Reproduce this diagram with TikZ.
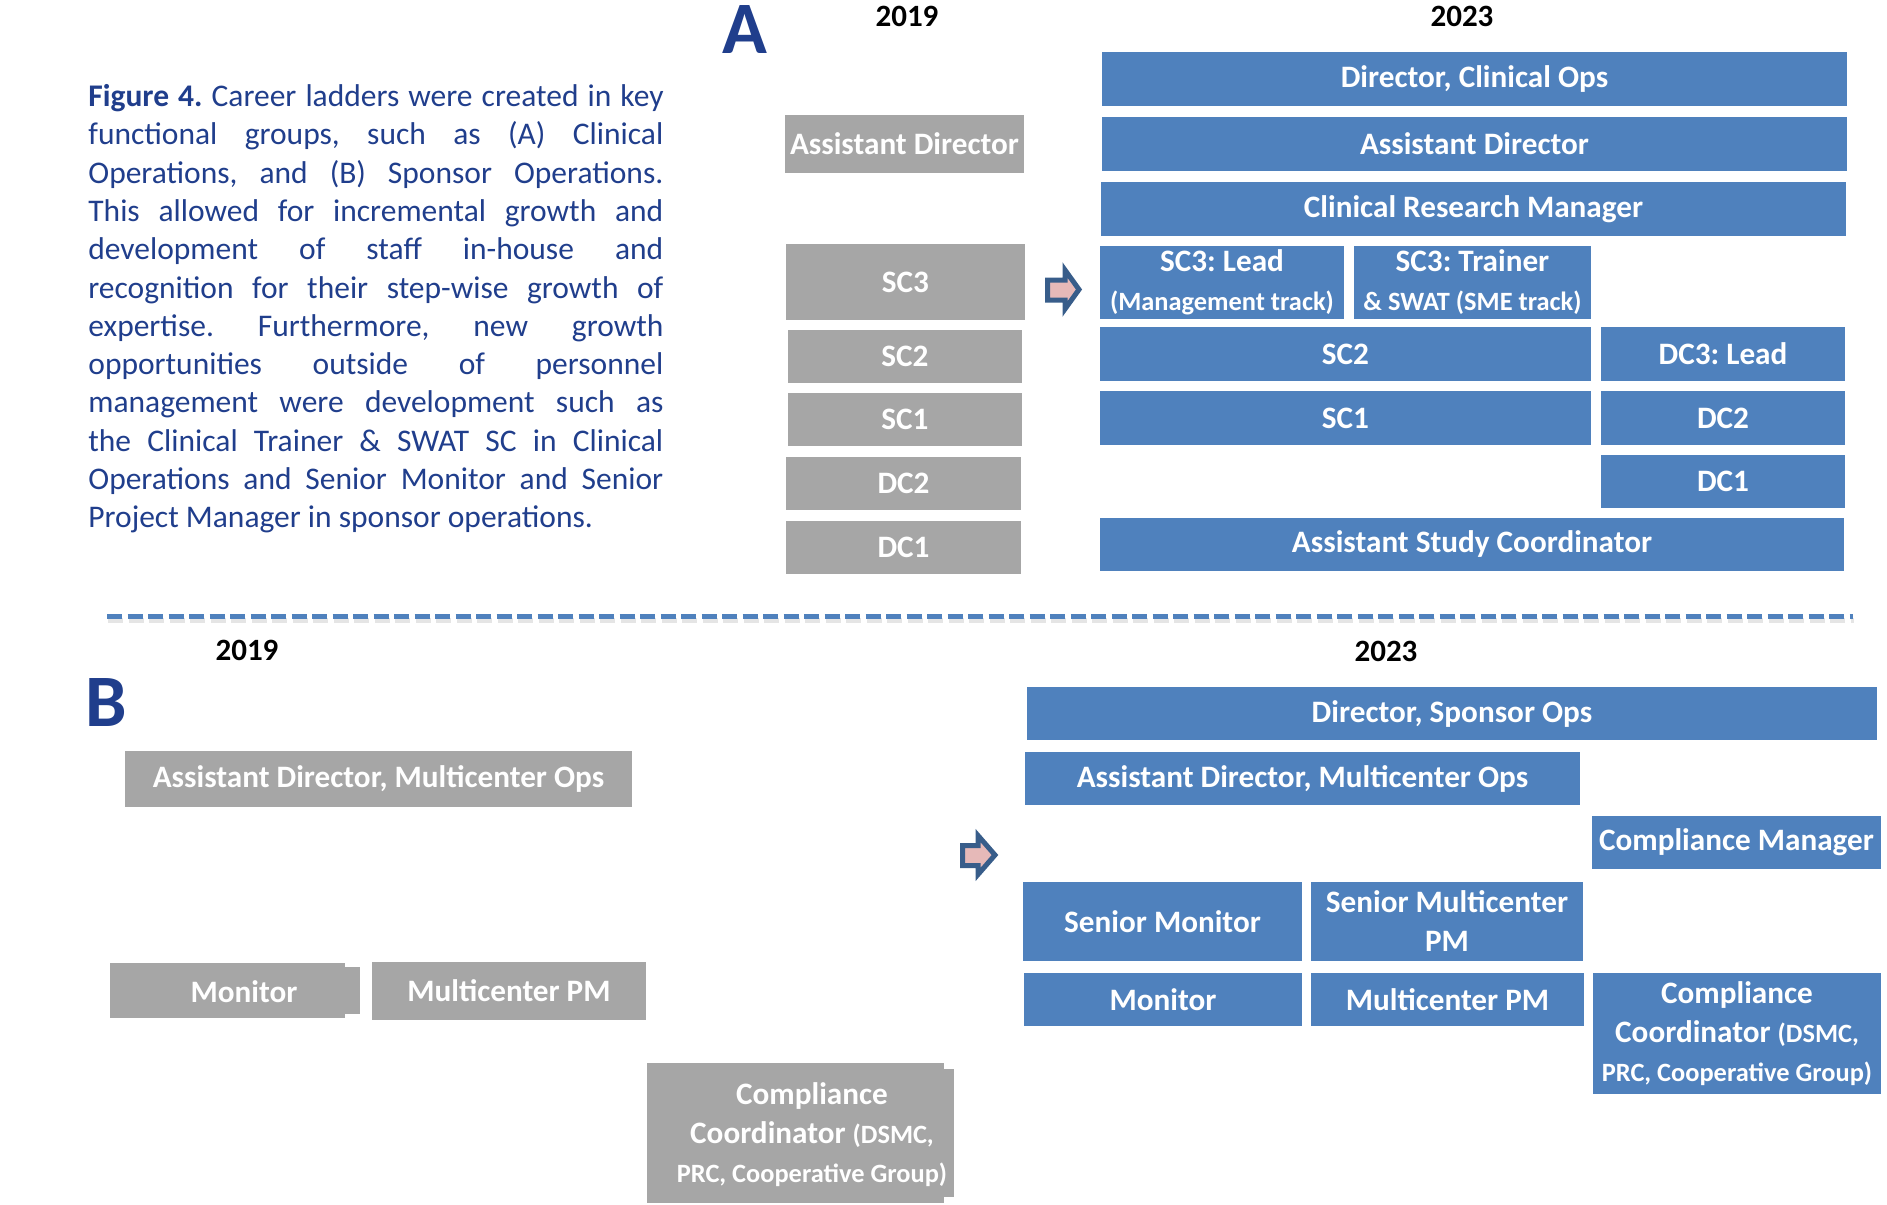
\documentclass[tikz,border=0pt]{standalone}
\usepackage{fontspec}
\setmainfont{Carlito}

\definecolor{laddergray}{HTML}{A6A6A6}
\definecolor{ladderblue}{HTML}{4F81BD}
\definecolor{captionblue}{HTML}{203E8C}
\definecolor{arrowedge}{HTML}{385D8A}
\definecolor{arrowfill}{HTML}{E6B9B8}

\newcommand{\subtxt}{\fontsize{13.2pt}{16pt}\selectfont}

\tikzset{
    boxtext/.style={text=white, inner sep=0pt, align=center, font=\bfseries\fontsize{15.6pt}{19.5pt}\selectfont\frenchspacing},
    boxsize/.style 2 args={minimum width=#1*0.5pt, minimum height=#2*0.5pt},
    oldbox/.style={boxtext, fill=laddergray},
    newbox/.style={boxtext, fill=ladderblue},
    yearlabel/.style={inner sep=0pt, font=\bfseries\fontsize{15.5pt}{19pt}\selectfont},
    partletter/.style={inner sep=0pt, text=captionblue, font=\bfseries\fontsize{37pt}{40pt}\selectfont},
    shiftarrow/.style={draw=arrowedge, fill=arrowfill, line width=2.5pt, miter limit=10}
}

\begin{document}
\begin{tikzpicture}[x=0.5pt, y=-0.5pt]
    \useasboundingbox (0,0) rectangle (1887,1205);

    \node[anchor=north west, inner sep=0pt, text width=287.5pt, align=justify, text=captionblue,
        font=\fontsize{15.75pt}{19.15pt}\selectfont\frenchspacing] (caption) at (88,84)
        {\textbf{Figure 4.} Career ladders were created in key\linebreak
        functional groups, such as (A) Clinical\linebreak
        Operations, and (B) Sponsor Operations.\linebreak
        This allowed for incremental growth and\linebreak
        development of staff in-house and\linebreak
        recognition for their step-wise growth of\linebreak
        expertise. Furthermore, new growth\linebreak
        opportunities outside of personnel\linebreak
        management were development such as\linebreak
        the Clinical Trainer \& SWAT SC in Clinical\linebreak
        Operations and Senior Monitor and Senior\linebreak
        Project Manager in sponsor operations.};

    \node[partletter] (lettera) at (745,30) {A};
    \node[yearlabel] (olda) at (907,16) {2019};
    \node[yearlabel] (newa) at (1462,16) {2023};

    \node[oldbox, boxsize={239}{58}] (oldad) at (904.5,144) {Assistant Director};
    \node[oldbox, boxsize={239}{76}] (oldsc3) at (905.5,282) {SC3};
    \node[oldbox, boxsize={234}{53}] (oldsc2) at (905,356.5) {SC2};
    \node[oldbox, boxsize={234}{53}] (oldsc1) at (905,419.5) {SC1};
    \node[oldbox, boxsize={235}{53}] (olddc2) at (903.5,483.5) {DC2};
    \node[oldbox, boxsize={235}{53}] (olddc1) at (903.5,547.5) {DC1};

    \draw[shiftarrow] (1047.5,280) -- (1065,280) -- (1065,270) -- (1079,289.5) -- (1065,309) -- (1065,300) -- (1047.5,300) -- cycle;

    \node[newbox, boxsize={745}{54}] (newdir) at (1474.5,79) {Director, Clinical Ops};
    \node[newbox, boxsize={745}{54}] (newad) at (1474.5,144) {Assistant Director};
    \node[newbox, boxsize={745}{54}] (newcrm) at (1473.5,209) {Clinical Research Manager};
    \node[newbox, boxsize={244}{73}] (newlead) at (1222,282) {SC3: Lead\\{\subtxt (Management track)}};
    \node[newbox, boxsize={237}{73}] (newtrain) at (1472.5,282) {SC3: Trainer\\{\subtxt \& SWAT (SME track)}};
    \node[newbox, boxsize={491}{54}] (newsc2) at (1345.5,354) {SC2};
    \node[newbox, boxsize={244}{54}] (newdc3) at (1723,354) {DC3: Lead};
    \node[newbox, boxsize={491}{54}] (newsc1) at (1345.5,418) {SC1};
    \node[newbox, boxsize={244}{54}] (newdc2) at (1723,418) {DC2};
    \node[newbox, boxsize={244}{53}] (newdc1) at (1723,481.5) {DC1};
    \node[newbox, boxsize={744}{53}] (newasc) at (1472,544.5) {Assistant Study Coordinator};

    \coordinate (sepleft) at (107,616);
    \coordinate (sepright) at (1853,616);
    \draw[black!10, line width=2.5pt, dash pattern=on 7.5pt off 2.75pt] ([shift={(1,4)}]sepleft) -- ([shift={(1,4)}]sepright);
    \draw[ladderblue, line width=2.5pt, dash pattern=on 7.5pt off 2.75pt] (sepleft) -- (sepright);

    \node[partletter] (letterb) at (106,702) {B};
    \node[yearlabel] (oldb) at (247,650) {2019};
    \node[yearlabel] (newb) at (1386,651) {2023};

    \node[oldbox, boxsize={507}{56}] (oldmad) at (378.5,779) {Assistant Director, Multicenter Ops};
    \fill[laddergray] (345,967) rectangle (360,1014);
    \node[oldbox, boxsize={235}{55}] (oldmon) at (227.5,990.5) {};
    \node[boxtext] (oldmontext) at (244,991.5) {Monitor};
    \node[oldbox, boxsize={274}{58}] (oldmpm) at (509,991) {Multicenter PM};
    \fill[laddergray] (944,1069) rectangle (954,1197);
    \node[oldbox, boxsize={297}{140}] (oldcc) at (795.5,1133) {};
    \node[boxtext] (oldcctext) at (812,1135)
        {Compliance\\Coordinator {\subtxt (DSMC,}\\{\subtxt PRC, Cooperative Group)}};

    \draw[shiftarrow] (962.5,845.5) -- (978,845.5) -- (978,835.5) -- (995,855) -- (978,874.5) -- (978,865.5) -- (962.5,865.5) -- cycle;

    \node[newbox, boxsize={850}{53}] (newdsp) at (1452,713.5) {Director, Sponsor Ops};
    \node[newbox, boxsize={555}{53}] (newmad) at (1302.5,778.5) {Assistant Director, Multicenter Ops};
    \node[newbox, boxsize={289}{53}] (newcm) at (1736.5,842.5) {Compliance Manager};
    \node[newbox, boxsize={279}{79}] (newsmon) at (1162.5,921.5) {Senior Monitor};
    \node[newbox, boxsize={272}{79}] (newsmpm) at (1447,921.5) {Senior Multicenter\\PM};
    \node[newbox, boxsize={278}{53}] (newmon) at (1163,999.5) {Monitor};
    \node[newbox, boxsize={273}{53}] (newmpm) at (1447.5,999.5) {Multicenter PM};
    \node[newbox, boxsize={288}{121}] (newcc) at (1737,1033.5)
        {Compliance\\Coordinator {\subtxt (DSMC,}\\{\subtxt PRC, Cooperative Group)}};

\end{tikzpicture}
\end{document}
